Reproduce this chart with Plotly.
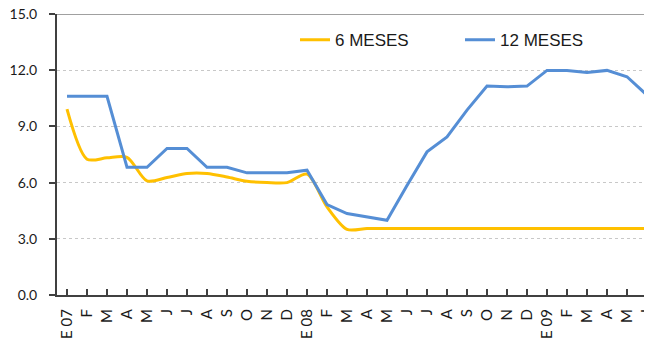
import plotly.graph_objects as go

categories = ["E 07", "F", "M", "A", "M", "J", "J", "A", "S", "O", "N", "D",
              "E 08", "F", "M", "A", "M", "J", "J", "A", "S", "O", "N", "D",
              "E 09", "F", "M", "A", "M", "J"]

meses_6 = [9.92, 7.25, 7.32, 7.35, 6.09, 6.27, 6.49, 6.49, 6.30, 6.07, 6.00, 6.00,
           6.45, 4.70, 3.50, 3.55, 3.55, 3.55, 3.55, 3.55, 3.55, 3.55, 3.55, 3.55,
           3.55, 3.55, 3.55, 3.55, 3.55, 3.55]

meses_12 = [10.61, 10.61, 10.61, 6.82, 6.82, 7.82, 7.82, 6.82, 6.82, 6.52, 6.52, 6.52,
            6.66, 4.83, 4.35, 4.15, 3.99, 5.85, 7.64, 8.44, 9.87, 11.15, 11.11, 11.15,
            11.99, 11.98, 11.88, 11.99, 11.65, 10.67]

y_ticks = [0, 3, 6, 9, 12, 15]
y_tick_labels = ["0.0", "3.0", "6.0", "9.0", "12.0", "15.0"]

x_idx = list(range(len(categories)))

fig = go.Figure()
fig.add_trace(go.Scatter(x=x_idx, y=meses_6, mode="lines", name="6 MESES",
                         line=dict(color="#FFC000", width=3, shape="spline", smoothing=0.8)))
fig.add_trace(go.Scatter(x=x_idx, y=meses_12, mode="lines", name="12 MESES",
                         line=dict(color="#558ED5", width=3)))

fig.add_shape(type="line", xref="paper", yref="y", x0=0, x1=1, y0=15, y1=15,
              line=dict(color="#808080", width=1.5), layer="below")

# the page body has an 8px default margin; size the figure to fill the rest
fig.update_layout(
    width=644, height=339,
    margin=dict(l=49, r=0, t=6, b=52),
    plot_bgcolor="white", paper_bgcolor="white",
    showlegend=True,
    legend=dict(orientation="h", x=0.40, xanchor="left", y=0.907, yanchor="middle",
                font=dict(family="Liberation Sans, Arial", size=17, color="#1a1a1a"),
                bgcolor="rgba(0,0,0,0)", entrywidth=120, entrywidthmode="pixels",
                itemwidth=30),
    xaxis=dict(
        range=[-0.5, 29.25],
        tickmode="array", tickvals=x_idx, ticktext=categories,
        tickangle=-90, automargin=False, ticklabeloverflow="allow",
        ticks="inside", ticklen=6, tickcolor="#404040", tickwidth=1.5,
        showline=True, linecolor="#404040", linewidth=2,
        showgrid=False, zeroline=False,
        tickfont=dict(family="Lato, Open Sans", size=15, color="#1a1a1a"),
        ticklabelstandoff=6,
    ),
    yaxis=dict(
        range=[0, 15], automargin=False, ticklabeloverflow="allow",
        tickmode="array", tickvals=y_ticks, ticktext=y_tick_labels,
        ticks="outside", ticklen=6, tickcolor="#404040", tickwidth=1.5,
        showline=True, linecolor="#404040", linewidth=2,
        showgrid=True, gridcolor="#C8C8C8", griddash="dot", gridwidth=1,
        zeroline=False,
        tickfont=dict(family="Lato, Open Sans", size=14, color="#1a1a1a"),
        ticklabelstandoff=9,
    ),
)

fig.write_html("out.html")
